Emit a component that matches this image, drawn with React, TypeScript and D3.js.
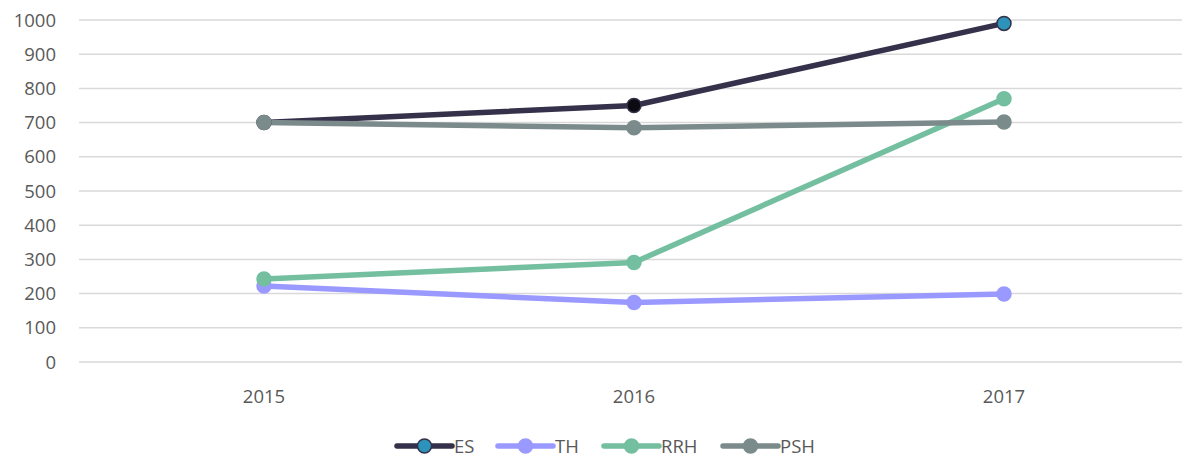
import React from "react";
import * as d3 from "d3";

const years = ["2015", "2016", "2017"];
const esValues = [700, 750, 990];
const thValues = [222, 174, 199];
const rrhValues = [243, 291, 770];
const pshValues = [700, 685, 702];
const yTicks = [0, 100, 200, 300, 400, 500, 600, 700, 800, 900, 1000];

const series = [
  { name: "ES", values: esValues, color: "#35314a", marker: "#2e93ba", markerStroke: "#35314a" },
  { name: "TH", values: thValues, color: "#9a99ff", marker: "#9a99ff", markerStroke: "#9a99ff" },
  { name: "RRH", values: rrhValues, color: "#73bfa0", marker: "#73bfa0", markerStroke: "#73bfa0" },
  { name: "PSH", values: pshValues, color: "#7b8b8b", marker: "#7b8b8b", markerStroke: "#7b8b8b" },
];
// ES point fills differ per year in the original
const esPointFills = ["#7b8b8b", "#0c0b12", "#2e93ba"];

const width = 1182;
const height = 457;
const font = "'Open Sans', sans-serif";

export default function App() {
  const x = d3.scaleBand().domain(years).range([79, 1189]);
  const y = d3.scaleLinear().domain([0, 1000]).range([362, 20]);
  const cx = (d: string) => (x(d) as number) + x.bandwidth() / 2;

  const line = d3
    .line<number>()
    .x((_, i) => cx(years[i]))
    .y((d) => y(d));

  const legendX = [397, 498, 604, 723];

  return (
    <div style={{ position: "fixed", left: 0, top: 0 }}>
      <svg width={width} height={height} style={{ display: "block", background: "#fff" }}>
        {yTicks.map((t) => (
          <g key={t}>
            <line x1={79} x2={width} y1={y(t)} y2={y(t)} stroke="#d9d9d9" strokeWidth={1.5} />
            <text
              x={56}
              y={y(t)}
              dy="0.36em"
              textAnchor="end"
              fontFamily={font}
              fontSize={18.5}
              fill="#595959"
            >
              {t}
            </text>
          </g>
        ))}
        {years.map((yr) => (
          <text
            key={yr}
            x={cx(yr)}
            y={396}
            dy="0.36em"
            textAnchor="middle"
            fontFamily={font}
            fontSize={18.5}
            fill="#595959"
          >
            {yr}
          </text>
        ))}
        {series.map((s) => (
          <path
            key={s.name}
            d={line(s.values) || ""}
            fill="none"
            stroke={s.color}
            strokeWidth={5.5}
            strokeLinecap="round"
            strokeLinejoin="round"
          />
        ))}
        {series.map((s) =>
          s.values.map((v, i) => (
            <circle
              key={s.name + i}
              cx={cx(years[i])}
              cy={y(v)}
              r={7}
              fill={s.name === "ES" ? esPointFills[i] : s.marker}
              stroke={s.markerStroke}
              strokeWidth={1.5}
            />
          ))
        )}
        {series.map((s, i) => (
          <g key={s.name} transform={`translate(${legendX[i]},446)`}>
            <line x1={0} x2={55} y1={0} y2={0} stroke={s.color} strokeWidth={5.5} strokeLinecap="round" />
            <circle cx={27.5} cy={0} r={7} fill={s.marker} stroke={s.markerStroke} strokeWidth={1.5} />
            <text x={57} y={0} dy="0.36em" fontFamily={font} fontSize={18.5} fill="#595959">
              {s.name}
            </text>
          </g>
        ))}
      </svg>
    </div>
  );
}
